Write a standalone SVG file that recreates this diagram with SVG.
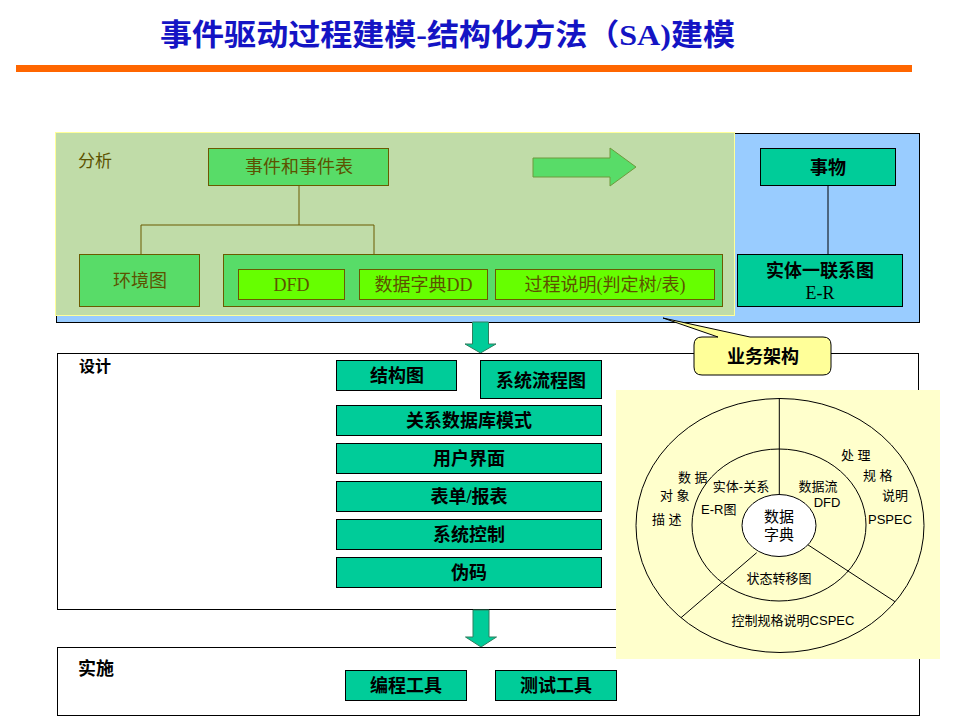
<svg xmlns="http://www.w3.org/2000/svg" width="960" height="720" viewBox="0 0 960 720">
<defs>
<style>
.t{font-family:"Liberation Serif","Noto Sans CJK SC",serif;font-size:18px;text-anchor:middle}
.ol{fill:#5c5200}
.bk{fill:#000}
.b{font-weight:bold}
.gbox{fill:#58DC68;stroke:#6b5b00;stroke-width:1}
.lbox{fill:#66FF00;stroke:#6b5b00;stroke-width:1}
.tbox{fill:#00CC99;stroke:#000;stroke-width:1}
.frame{fill:#fff;stroke:#000;stroke-width:1}
.c{font-family:"Liberation Sans","Noto Sans CJK SC",sans-serif;font-size:13px;fill:#000}
.ln{stroke:#000;stroke-width:1;fill:none}
.oln{stroke:#6b5b00;stroke-width:1;fill:none}
.darr{fill:#00CC99;stroke:#2f7f5f;stroke-width:1}
</style>
</defs>
<rect width="960" height="720" fill="#fff"/>

<g id="title">
<text x="160" y="45" textLength="575" lengthAdjust="spacingAndGlyphs" style="font-family:'Liberation Serif','Noto Sans CJK SC',serif;font-size:30px;font-weight:bold;fill:#1414C4">事件驱动过程建模-结构化方法（SA)建模</text>
<rect x="16" y="65" width="896" height="7" fill="#FF6600"/>
</g>

<g id="analysis">
<rect x="56.5" y="133.5" width="863" height="189" fill="#99CCFF" stroke="#000"/>
<rect x="55.5" y="132.5" width="679" height="183" fill="#C0DCA8" stroke="#FFFF99"/>
<text x="78" y="167" class="t ol" style="text-anchor:start;font-size:17px">分析</text>
</g>

<g id="connectors">
<path class="oln" d="M299,186 V225 M141,225 H374 M141,225 V255 M374,225 V255"/>
<path class="ln" d="M828,186 V254"/>
</g>

<g id="n-events">
<rect class="gbox" x="208.5" y="148.5" width="180" height="37"/>
<text x="299" y="173" class="t ol">事件和事件表</text>
</g>

<g id="right-arrow">
<polygon points="533,158 610,158 610,148 636,167 610,186 610,177 533,177" fill="#58DC68" stroke="#6e9a3c"/>
</g>

<g id="n-context">
<rect class="gbox" x="79.5" y="254.5" width="120" height="52"/>
<text x="140" y="287" class="t ol">环境图</text>
</g>

<g id="n-group">
<rect class="gbox" x="223.5" y="254.5" width="499" height="52"/>
</g>
<g id="n-dfd">
<rect class="lbox" x="238.5" y="269.5" width="106" height="30"/>
<text x="291.5" y="291" class="t ol">DFD</text>
</g>
<g id="n-dd">
<rect class="lbox" x="359.5" y="269.5" width="128" height="30"/>
<text x="423.5" y="291" class="t ol">数据字典DD</text>
</g>
<g id="n-proc">
<rect class="lbox" x="495.5" y="269.5" width="219" height="30"/>
<text x="605" y="291" class="t ol">过程说明(判定树/表)</text>
</g>

<g id="n-things">
<rect class="tbox" x="760.5" y="148.5" width="135" height="37"/>
<text x="828" y="174" class="t bk b">事物</text>
</g>
<g id="n-er">
<rect class="tbox" x="737.5" y="254.5" width="165" height="52"/>
<text x="820" y="277" class="t bk b">实体一联系图</text>
<text x="820" y="299" class="t bk">E-R</text>
</g>

<g id="arrow-down-1">
<polygon class="darr" points="472.5,322 488.5,322 488.5,344 496,344 480.5,353 465,344 472.5,344"/>
</g>

<g id="design">
<rect class="frame" x="57.5" y="353.5" width="861" height="256"/>
<text x="79" y="372" class="t bk b" style="text-anchor:start;font-size:16px">设计</text>
</g>

<g id="callout">
<path d="M702,337 L718,337 L663,318 L750,337 L823,337 Q831,337 831,345 L831,367 Q831,375 823,375 L702,375 Q694,375 694,367 L694,345 Q694,337 702,337 Z" fill="#FFFF99" stroke="#000"/>
<text x="763" y="363" class="t bk b">业务架构</text>
</g>

<g id="n-struct">
<rect class="tbox" x="336.5" y="360.5" width="120" height="30"/>
<text x="397" y="382" class="t bk b">结构图</text>
</g>
<g id="n-sysflow">
<rect class="tbox" x="480.5" y="360.5" width="121" height="38"/>
<text x="541" y="387" class="t bk b">系统流程图</text>
</g>
<g id="n-rdb">
<rect class="tbox" x="336.5" y="405.5" width="265" height="30"/>
<text x="469" y="427" class="t bk b">关系数据库模式</text>
</g>
<g id="n-ui">
<rect class="tbox" x="336.5" y="443.5" width="265" height="30"/>
<text x="469" y="465" class="t bk b">用户界面</text>
</g>
<g id="n-forms">
<rect class="tbox" x="336.5" y="481.5" width="265" height="30"/>
<text x="469" y="503" class="t bk b">表单/报表</text>
</g>
<g id="n-ctrl">
<rect class="tbox" x="336.5" y="519.5" width="265" height="30"/>
<text x="469" y="541" class="t bk b">系统控制</text>
</g>
<g id="n-pseudo">
<rect class="tbox" x="336.5" y="557.5" width="265" height="30"/>
<text x="469" y="579" class="t bk b">伪码</text>
</g>

<g id="arrow-down-2">
<polygon class="darr" points="473,610 489,610 489,637 496.5,637 481,647 465.5,637 473,637"/>
</g>

<g id="implement">
<rect class="frame" x="57.5" y="647.5" width="862" height="68"/>
<text x="78" y="675" class="t bk b" style="text-anchor:start">实施</text>
</g>
<g id="n-prog">
<rect class="tbox" x="345.5" y="670.5" width="121" height="30"/>
<text x="406" y="692" class="t bk b">编程工具</text>
</g>
<g id="n-test">
<rect class="tbox" x="495.5" y="670.5" width="121" height="30"/>
<text x="556" y="692" class="t bk b">测试工具</text>
</g>

<g id="panel">
<rect x="616" y="390" width="324" height="269" fill="#FFFFCC"/>
<ellipse cx="780" cy="525.5" rx="144" ry="127" fill="none" stroke="#000"/>
<ellipse cx="779" cy="525" rx="87" ry="76" fill="none" stroke="#000"/>
<path class="ln" d="M779.3,398 V494 M806.7,544 L895,601.7 M756.7,552.7 L681,617.7"/>
<ellipse cx="779" cy="525.5" rx="37" ry="31" fill="#fff" stroke="#000"/>
<text x="779" y="522" class="c" style="font-size:15px;text-anchor:middle">数据</text>
<text x="779" y="540" class="c" style="font-size:15px;text-anchor:middle">字典</text>
<text x="741" y="491" class="c" style="text-anchor:middle">实体-关系</text>
<text x="701" y="514" class="c">E-R图</text>
<text x="818" y="491" class="c" style="text-anchor:middle">数据流</text>
<text x="827" y="507" class="c" style="text-anchor:middle">DFD</text>
<text x="841" y="460" class="c">处 理</text>
<text x="863" y="480" class="c">规 格</text>
<text x="882" y="500" class="c">说明</text>
<text x="868" y="524" class="c">PSPEC</text>
<text x="678" y="482" class="c">数 据</text>
<text x="660" y="500" class="c">对 象</text>
<text x="652" y="524" class="c">描 述</text>
<text x="779" y="583" class="c" style="text-anchor:middle">状态转移图</text>
<text x="793" y="625" class="c" style="text-anchor:middle">控制规格说明CSPEC</text>
</g>
</svg>
